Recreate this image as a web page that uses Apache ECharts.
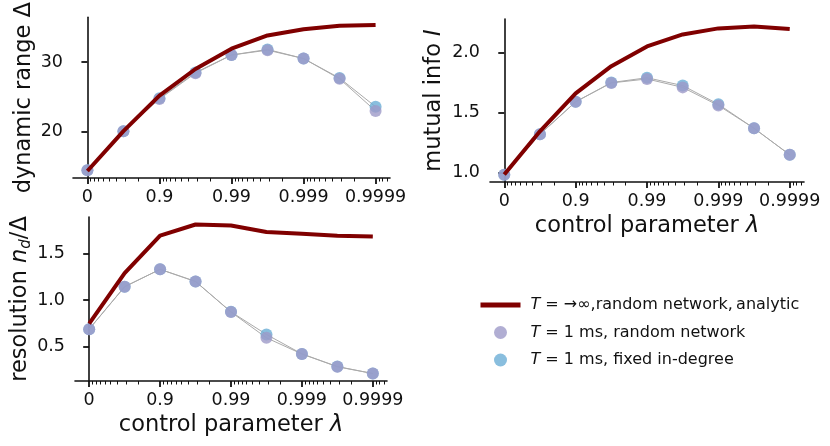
<!DOCTYPE html>
<html>
<head>
<meta charset="utf-8">
<script src="https://cdn.jsdelivr.net/npm/echarts@6/dist/echarts.min.js"></script>
<style>
  html, body { margin: 0; padding: 0; background: #fff; }
  #chart { width: 830px; height: 446px; }
</style>
</head>
<body>
<div id="chart"></div>
<script>
// x positions are -log10(1 - lambda), half decades
var xPos = [0, 0.5, 1, 1.5, 2, 2.5, 3, 3.5, 4];
var tickLabels = ['0', '0.9', '0.99', '0.999', '0.9999'];

var rangeAnalytic = [14.4, 20.1, 25.2, 29.0, 31.9, 33.8, 34.7, 35.2, 35.3];
var rangeRandom = [14.5, 20.1, 24.7, 28.4, 31.0, 31.7, 30.5, 27.6, 23.0];
var rangeFixed = [14.5, 20.1, 24.8, 28.5, 31.0, 31.8, 30.5, 27.7, 23.6];

var infoAnalytic = [0.986, 1.345, 1.66, 1.886, 2.05, 2.15, 2.2, 2.216, 2.194];
var infoRandom = [0.985, 1.32, 1.59, 1.747, 1.78, 1.71, 1.56, 1.37, 1.15];
var infoFixed = [0.985, 1.32, 1.59, 1.75, 1.79, 1.725, 1.57, 1.37, 1.15];

var resAnalytic = [0.748, 1.29, 1.69, 1.81, 1.80, 1.73, 1.71, 1.69, 1.68];
var resRandom = [0.69, 1.144, 1.33, 1.20, 0.873, 0.597, 0.424, 0.287, 0.215];
var resFixed = [0.69, 1.144, 1.33, 1.20, 0.875, 0.633, 0.425, 0.29, 0.215];

var FONT = 'DejaVu Sans';
var INK = '#111';
var RED = '#800000';
var PURPLE = '#9e9ac8';
var BLUE = '#6baed6';

// log-style minor ticks between the decades
var minorTicks = [];
for (var n = 0; n <= 4; n++) {
  for (var k = 9; k >= 2; k--) {
    var v = n + 1 - Math.log10(k);
    if (v < 4.2) minorTicks.push(v);
  }
}

function pairs(ys) {
  return ys.map(function (y, i) { return [xPos[i], y]; });
}

var richName = {
  it: { fontStyle: 'italic', fontFamily: FONT, fontSize: 22.5, color: INK, lineHeight: 26 },
  sub: { fontStyle: 'italic', fontFamily: FONT, fontSize: 15, color: INK, lineHeight: 18, verticalAlign: 'bottom' }
};

function majorX(gi, showName) {
  return {
    type: 'value', gridIndex: gi, min: -0.2, max: 4.2,
    name: showName ? 'control parameter {it|λ}' : '',
    nameLocation: 'middle', nameGap: 31,
    nameTextStyle: { fontFamily: FONT, fontSize: 22.5, color: INK, lineHeight: 26, rich: richName },
    axisLine: { show: true, lineStyle: { color: INK, width: 1.6 } },
    axisTick: { show: true, length: 6, customValues: [0, 1, 2, 3, 4], lineStyle: { color: INK, width: 1.8 } },
    axisLabel: {
      show: true, margin: 10, customValues: [0, 1, 2, 3, 4],
      fontFamily: FONT, fontSize: 17.5, color: INK,
      formatter: function (v) { return tickLabels[Math.round(v)]; }
    },
    splitLine: { show: false }
  };
}

function minorX(gi) {
  return {
    type: 'value', gridIndex: gi, min: -0.2, max: 4.2, position: 'bottom',
    axisLine: { show: false },
    axisTick: { show: true, length: 3.5, customValues: minorTicks, lineStyle: { color: INK, width: 1 } },
    axisLabel: { show: false },
    splitLine: { show: false }
  };
}

function yAxis(gi, min, max, ticks, digits, name, gap) {
  return {
    type: 'value', gridIndex: gi, min: min, max: max,
    name: name, nameLocation: 'middle', nameGap: gap, nameRotate: 90,
    nameTextStyle: { fontFamily: FONT, fontSize: 22.5, color: INK, lineHeight: 26, rich: richName },
    axisLine: { show: true, lineStyle: { color: INK, width: 1.6 } },
    axisTick: { show: true, length: 6, customValues: ticks, lineStyle: { color: INK, width: 1.8 } },
    axisLabel: {
      show: true, margin: 10, customValues: ticks,
      fontFamily: FONT, fontSize: 17.5, color: INK,
      formatter: function (v) { return v.toFixed(digits); }
    },
    splitLine: { show: false }
  };
}

function panelSeries(gi, analytic, random, fixed) {
  var xi = gi * 2;
  var grey = { color: '#aaaaaa', width: 1 };
  return [
    { type: 'line', xAxisIndex: xi, yAxisIndex: gi, data: pairs(fixed), symbol: 'none', lineStyle: grey, silent: true, z: 1 },
    { type: 'line', xAxisIndex: xi, yAxisIndex: gi, data: pairs(random), symbol: 'none', lineStyle: grey, silent: true, z: 1 },
    { type: 'scatter', name: 'fixed', xAxisIndex: xi, yAxisIndex: gi, data: pairs(fixed), symbolSize: 12, itemStyle: { color: BLUE }, z: 2 },
    { type: 'scatter', name: 'random', xAxisIndex: xi, yAxisIndex: gi, data: pairs(random), symbolSize: 12, itemStyle: { color: PURPLE }, z: 3 },
    { type: 'line', name: 'analytic', xAxisIndex: xi, yAxisIndex: gi, data: pairs(analytic), symbol: 'none', lineStyle: { color: RED, width: 4 }, itemStyle: { color: RED }, z: 4 }
  ];
}

var legendText = {
  analytic: '{it|T} = →∞,random network,\u2009analytic',
  random: '{it|T} = 1 ms, random network',
  fixed: '{it|T} = 1 ms, fixed in-degree'
};

var chart = echarts.init(document.getElementById('chart'), null, { renderer: 'canvas' });
chart.setOption({
  animation: false,
  backgroundColor: '#fff',
  grid: [
    { left: 73, top: 15, width: 317, height: 163 },
    { left: 490, top: 19, width: 314, height: 163 },
    { left: 75, top: 217, width: 312, height: 164 }
  ],
  xAxis: [
    majorX(0, false), minorX(0),
    majorX(1, true), minorX(1),
    majorX(2, true), minorX(2)
  ],
  yAxis: [
    yAxis(0, 13.4, 36.4, [20, 30], 0, 'dynamic range Δ', 36),
    yAxis(1, 0.924, 2.278, [1.0, 1.5, 2.0], 1, 'mutual info {it|I}', 43),
    yAxis(2, 0.135, 1.89, [0.5, 1.0, 1.5], 1, 'resolution {it|n}{sub|d}/Δ', 38)
  ],
  legend: {
    orient: 'vertical', left: 478, top: 295, padding: 0,
    itemWidth: 40, itemHeight: 13, itemGap: 7.5,
    data: [
      { name: 'analytic', itemStyle: { opacity: 0 }, lineStyle: { width: 5 } },
      'random',
      'fixed'
    ],
    selectedMode: false,
    formatter: function (name) { return legendText[name]; },
    textStyle: {
      fontFamily: FONT, fontSize: 16, color: INK, lineHeight: 20, padding: [0, 0, 0, 5],
      rich: { it: { fontStyle: 'italic', fontFamily: FONT, fontSize: 16, color: INK, lineHeight: 20 } }
    }
  },
  series: [].concat(
    panelSeries(0, rangeAnalytic, rangeRandom, rangeFixed),
    panelSeries(1, infoAnalytic, infoRandom, infoFixed),
    panelSeries(2, resAnalytic, resRandom, resFixed)
  )
});
</script>
</body>
</html>
